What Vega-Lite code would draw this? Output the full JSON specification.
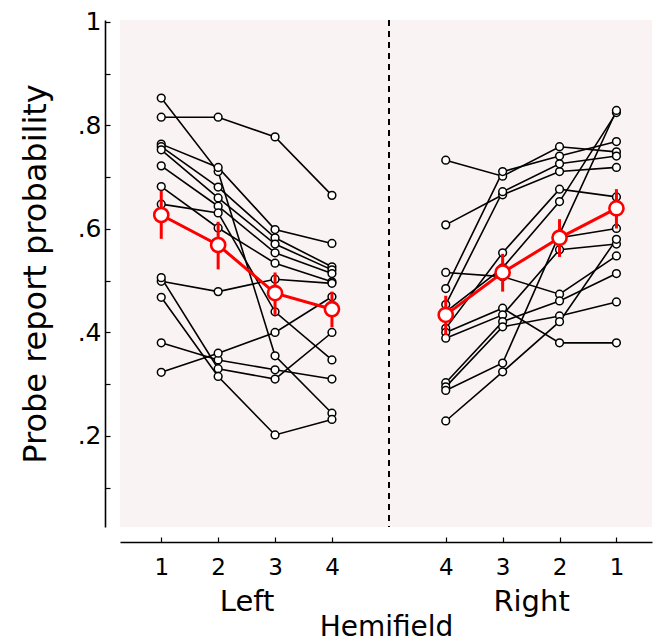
{
  "$schema": "https://vega.github.io/schema/vega-lite/v6.json",
  "width": 532,
  "height": 507,
  "autosize": {"type": "none"},
  "padding": {"left": 120, "top": 20, "right": 5, "bottom": 117},
  "background": "white",
  "view": {"fill": "#faf3f3", "stroke": null},
  "config": {"font": "DejaVu Sans"},
  "datasets": {
    "subjects": [
      {"s":"S1","h":"Left","e":1,"slot":0,"p":0.816},{"s":"S1","h":"Left","e":2,"slot":1,"p":0.816},{"s":"S1","h":"Left","e":3,"slot":2,"p":0.778},{"s":"S1","h":"Left","e":4,"slot":3,"p":0.665},
      {"s":"S2","h":"Left","e":1,"slot":0,"p":0.853},{"s":"S2","h":"Left","e":2,"slot":1,"p":0.711},{"s":"S2","h":"Left","e":3,"slot":2,"p":0.355},{"s":"S2","h":"Left","e":4,"slot":3,"p":0.244},
      {"s":"S3","h":"Left","e":1,"slot":0,"p":0.764},{"s":"S3","h":"Left","e":2,"slot":1,"p":0.719},{"s":"S3","h":"Left","e":3,"slot":2,"p":0.599},{"s":"S3","h":"Left","e":4,"slot":3,"p":0.572},
      {"s":"S4","h":"Left","e":1,"slot":0,"p":0.759},{"s":"S4","h":"Left","e":2,"slot":1,"p":0.681},{"s":"S4","h":"Left","e":3,"slot":2,"p":0.583},{"s":"S4","h":"Left","e":4,"slot":3,"p":0.527},
      {"s":"S5","h":"Left","e":1,"slot":0,"p":0.753},{"s":"S5","h":"Left","e":2,"slot":1,"p":0.660},{"s":"S5","h":"Left","e":3,"slot":2,"p":0.571},{"s":"S5","h":"Left","e":4,"slot":3,"p":0.521},
      {"s":"S6","h":"Left","e":1,"slot":0,"p":0.722},{"s":"S6","h":"Left","e":2,"slot":1,"p":0.644},{"s":"S6","h":"Left","e":3,"slot":2,"p":0.554},{"s":"S6","h":"Left","e":4,"slot":3,"p":0.514},
      {"s":"S7","h":"Left","e":1,"slot":0,"p":0.682},{"s":"S7","h":"Left","e":2,"slot":1,"p":0.602},{"s":"S7","h":"Left","e":3,"slot":2,"p":0.534},{"s":"S7","h":"Left","e":4,"slot":3,"p":0.498},
      {"s":"S8","h":"Left","e":1,"slot":0,"p":0.648},{"s":"S8","h":"Left","e":2,"slot":1,"p":0.631},{"s":"S8","h":"Left","e":3,"slot":2,"p":0.440},{"s":"S8","h":"Left","e":4,"slot":3,"p":0.347},
      {"s":"S9","h":"Left","e":1,"slot":0,"p":0.499},{"s":"S9","h":"Left","e":2,"slot":1,"p":0.479},{"s":"S9","h":"Left","e":3,"slot":2,"p":0.503},{"s":"S9","h":"Left","e":4,"slot":3,"p":0.495},
      {"s":"S10","h":"Left","e":1,"slot":0,"p":0.506},{"s":"S10","h":"Left","e":2,"slot":1,"p":0.330},{"s":"S10","h":"Left","e":3,"slot":2,"p":0.310},{"s":"S10","h":"Left","e":4,"slot":3,"p":0.400},
      {"s":"S11","h":"Left","e":1,"slot":0,"p":0.468},{"s":"S11","h":"Left","e":2,"slot":1,"p":0.315},{"s":"S11","h":"Left","e":3,"slot":2,"p":0.202},{"s":"S11","h":"Left","e":4,"slot":3,"p":0.232},
      {"s":"S12","h":"Left","e":1,"slot":0,"p":0.380},{"s":"S12","h":"Left","e":2,"slot":1,"p":0.347},{"s":"S12","h":"Left","e":3,"slot":2,"p":0.328},{"s":"S12","h":"Left","e":4,"slot":3,"p":0.310},
      {"s":"S13","h":"Left","e":1,"slot":0,"p":0.323},{"s":"S13","h":"Left","e":2,"slot":1,"p":0.360},{"s":"S13","h":"Left","e":3,"slot":2,"p":0.400},{"s":"S13","h":"Left","e":4,"slot":3,"p":0.469},
      {"s":"S14","h":"Left","e":1,"slot":0,"p":0.627},{"s":"S14","h":"Left","e":2,"slot":1,"p":0.569},{"s":"S14","h":"Left","e":3,"slot":2,"p":0.476},{"s":"S14","h":"Left","e":4,"slot":3,"p":0.445},
      {"s":"S1","h":"Right","e":4,"slot":5,"p":0.733},{"s":"S1","h":"Right","e":3,"slot":6,"p":0.702},{"s":"S1","h":"Right","e":2,"slot":7,"p":0.759},{"s":"S1","h":"Right","e":1,"slot":8,"p":0.749},
      {"s":"S2","h":"Right","e":4,"slot":5,"p":0.608},{"s":"S2","h":"Right","e":3,"slot":6,"p":0.666},{"s":"S2","h":"Right","e":2,"slot":7,"p":0.711},{"s":"S2","h":"Right","e":1,"slot":8,"p":0.719},
      {"s":"S3","h":"Right","e":4,"slot":5,"p":0.485},{"s":"S3","h":"Right","e":3,"slot":6,"p":0.711},{"s":"S3","h":"Right","e":2,"slot":7,"p":0.741},{"s":"S3","h":"Right","e":1,"slot":8,"p":0.769},
      {"s":"S4","h":"Right","e":4,"slot":5,"p":0.454},{"s":"S4","h":"Right","e":3,"slot":6,"p":0.672},{"s":"S4","h":"Right","e":2,"slot":7,"p":0.726},{"s":"S4","h":"Right","e":1,"slot":8,"p":0.741},
      {"s":"S5","h":"Right","e":4,"slot":5,"p":0.408},{"s":"S5","h":"Right","e":3,"slot":6,"p":0.554},{"s":"S5","h":"Right","e":2,"slot":7,"p":0.677},{"s":"S5","h":"Right","e":1,"slot":8,"p":0.662},
      {"s":"S6","h":"Right","e":4,"slot":5,"p":0.516},{"s":"S6","h":"Right","e":3,"slot":6,"p":0.508},{"s":"S6","h":"Right","e":2,"slot":7,"p":0.474},{"s":"S6","h":"Right","e":1,"slot":8,"p":0.548},
      {"s":"S7","h":"Right","e":4,"slot":5,"p":0.440},{"s":"S7","h":"Right","e":3,"slot":6,"p":0.525},{"s":"S7","h":"Right","e":2,"slot":7,"p":0.653},{"s":"S7","h":"Right","e":1,"slot":8,"p":0.825},
      {"s":"S8","h":"Right","e":4,"slot":5,"p":0.434},{"s":"S8","h":"Right","e":3,"slot":6,"p":0.516},{"s":"S8","h":"Right","e":2,"slot":7,"p":0.583},{"s":"S8","h":"Right","e":1,"slot":8,"p":0.601},
      {"s":"S9","h":"Right","e":4,"slot":5,"p":0.400},{"s":"S9","h":"Right","e":3,"slot":6,"p":0.447},{"s":"S9","h":"Right","e":2,"slot":7,"p":0.380},{"s":"S9","h":"Right","e":1,"slot":8,"p":0.380},
      {"s":"S10","h":"Right","e":4,"slot":5,"p":0.389},{"s":"S10","h":"Right","e":3,"slot":6,"p":0.434},{"s":"S10","h":"Right","e":2,"slot":7,"p":0.560},{"s":"S10","h":"Right","e":1,"slot":8,"p":0.571},
      {"s":"S11","h":"Right","e":4,"slot":5,"p":0.303},{"s":"S11","h":"Right","e":3,"slot":6,"p":0.421},{"s":"S11","h":"Right","e":2,"slot":7,"p":0.461},{"s":"S11","h":"Right","e":1,"slot":8,"p":0.514},
      {"s":"S12","h":"Right","e":4,"slot":5,"p":0.295},{"s":"S12","h":"Right","e":3,"slot":6,"p":0.411},{"s":"S12","h":"Right","e":2,"slot":7,"p":0.432},{"s":"S12","h":"Right","e":1,"slot":8,"p":0.459},
      {"s":"S13","h":"Right","e":4,"slot":5,"p":0.288},{"s":"S13","h":"Right","e":3,"slot":6,"p":0.341},{"s":"S13","h":"Right","e":2,"slot":7,"p":0.590},{"s":"S13","h":"Right","e":1,"slot":8,"p":0.829},
      {"s":"S14","h":"Right","e":4,"slot":5,"p":0.229},{"s":"S14","h":"Right","e":3,"slot":6,"p":0.324},{"s":"S14","h":"Right","e":2,"slot":7,"p":0.421},{"s":"S14","h":"Right","e":1,"slot":8,"p":0.580}
    ],
    "means": [
      {"h":"Left","e":1,"slot":0,"p":0.627,"lo":0.581,"hi":0.674},
      {"h":"Left","e":2,"slot":1,"p":0.569,"lo":0.522,"hi":0.614},
      {"h":"Left","e":3,"slot":2,"p":0.476,"lo":0.434,"hi":0.516},
      {"h":"Left","e":4,"slot":3,"p":0.445,"lo":0.410,"hi":0.479},
      {"h":"Right","e":4,"slot":5,"p":0.434,"lo":0.395,"hi":0.471},
      {"h":"Right","e":3,"slot":6,"p":0.516,"lo":0.479,"hi":0.552},
      {"h":"Right","e":2,"slot":7,"p":0.583,"lo":0.546,"hi":0.619},
      {"h":"Right","e":1,"slot":8,"p":0.640,"lo":0.601,"hi":0.677}
    ]
  },
  "layer": [
    {
      "data": {"name": "subjects"},
      "mark": {"type": "line", "color": "black", "strokeWidth": 1.6},
      "encoding": {
        "x": {
          "field": "slot", "type": "quantitative",
          "scale": {"domain": [-0.725, 8.625], "nice": false, "zero": false},
          "axis": {
            "title": "Hemifield",
            "values": [0, 1, 1.5, 2, 3, 5, 6, 6.5, 7, 8],
            "labelExpr": "datum.value == 1.5 ? ['', 'Left'] : datum.value == 6.5 ? ['', 'Right'] : datum.value < 4 ? format(datum.value + 1, 'd') : format(9 - datum.value, 'd')",
            "offset": 15,
            "tickSize": -5,
            "tickColor": "black",
            "tickWidth": 1.2,
            "tickOpacity": {"condition": {"test": "datum.value == 1.5 || datum.value == 6.5", "value": 0}, "value": 1},
            "domainColor": "black",
            "domainWidth": 1.6,
            "labelColor": "black",
            "labelFontSize": {"condition": {"test": "datum.value == 1.5 || datum.value == 6.5", "value": 29}, "value": 23},
            "labelLineHeight": 31,
            "labelBaseline": "top",
            "labelPadding": 19,
            "labelFlush": false,
            "labelOverlap": false,
            "labelBound": false,
            "titleFontSize": 28,
            "titleFontWeight": "normal",
            "titleColor": "black",
            "titlePadding": -3,
            "grid": false
          }
        },
        "y": {
          "field": "p", "type": "quantitative",
          "scale": {"domain": [0.02415, 1.00386], "nice": false, "zero": false},
          "axis": {
            "title": "Probe report probability",
            "values": [0.1, 0.2, 0.3, 0.4, 0.5, 0.6, 0.7, 0.8, 0.9, 1],
            "labelExpr": "datum.value == 1 ? '1' : (round(datum.value * 10) % 2 == 0 ? replace(format(datum.value, '.1f'), '0.', '.') : '')",
            "offset": 15,
            "tickSize": -5,
            "tickColor": "black",
            "tickWidth": 1.2,
            "domainColor": "black",
            "domainWidth": 1.6,
            "labelColor": "black",
            "labelFontSize": 25,
            "labelPadding": 9,
            "labelFlush": false,
            "labelOverlap": false,
            "labelBound": false,
            "titleFontSize": 32,
            "titleFontWeight": "normal",
            "titleColor": "black",
            "titlePadding": 25,
            "grid": false
          }
        },
        "detail": [{"field": "s"}, {"field": "h"}]
      }
    },
    {
      "data": {"name": "subjects"},
      "mark": {"type": "rule", "color": "black", "strokeDash": [6, 5], "strokeWidth": 1.5},
      "encoding": {
        "x": {"datum": 4, "type": "quantitative", "title": "Hemifield", "scale": {"domain": [-0.725, 8.625], "nice": false, "zero": false}}
      }
    },
    {
      "data": {"name": "subjects"},
      "mark": {"type": "point", "shape": "circle", "filled": true, "fill": "white", "stroke": "black", "strokeWidth": 1.5, "size": 60, "opacity": 1},
      "encoding": {
        "x": {"field": "slot", "type": "quantitative", "title": "Hemifield", "scale": {"domain": [-0.725, 8.625], "nice": false, "zero": false}},
        "y": {"field": "p", "type": "quantitative", "title": "Probe report probability", "scale": {"domain": [0.02415, 1.00386], "nice": false, "zero": false}}
      }
    },
    {
      "data": {"name": "means"},
      "mark": {"type": "rule", "color": "#ff0000", "strokeWidth": 3},
      "encoding": {
        "x": {"field": "slot", "type": "quantitative", "title": "Hemifield", "scale": {"domain": [-0.725, 8.625], "nice": false, "zero": false}},
        "y": {"field": "lo", "type": "quantitative", "title": "Probe report probability", "scale": {"domain": [0.02415, 1.00386], "nice": false, "zero": false}},
        "y2": {"field": "hi"}
      }
    },
    {
      "data": {"name": "means"},
      "mark": {"type": "line", "color": "#ff0000", "strokeWidth": 3},
      "encoding": {
        "x": {"field": "slot", "type": "quantitative", "title": "Hemifield", "scale": {"domain": [-0.725, 8.625], "nice": false, "zero": false}},
        "y": {"field": "p", "type": "quantitative", "title": "Probe report probability", "scale": {"domain": [0.02415, 1.00386], "nice": false, "zero": false}},
        "detail": {"field": "h"}
      }
    },
    {
      "data": {"name": "means"},
      "mark": {"type": "point", "shape": "circle", "filled": true, "fill": "white", "stroke": "#ff0000", "strokeWidth": 2.6, "size": 200, "opacity": 1},
      "encoding": {
        "x": {"field": "slot", "type": "quantitative", "title": "Hemifield", "scale": {"domain": [-0.725, 8.625], "nice": false, "zero": false}},
        "y": {"field": "p", "type": "quantitative", "title": "Probe report probability", "scale": {"domain": [0.02415, 1.00386], "nice": false, "zero": false}}
      }
    }
  ]
}
